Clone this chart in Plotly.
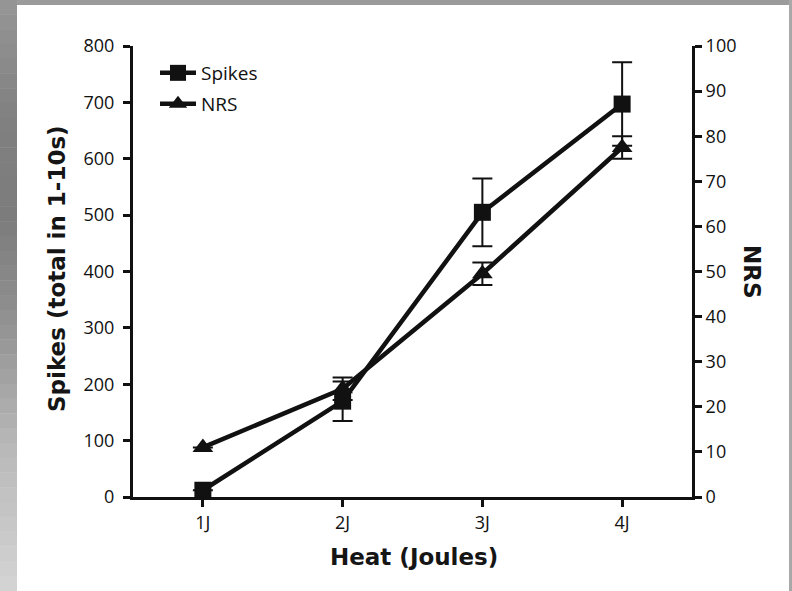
import plotly.graph_objects as go

# ---- data ----
heat_labels = ["1J", "2J", "3J", "4J"]
heat_x = [1, 2, 3, 4]
spikes = [12, 170, 505, 697]
spikes_err = [0, 35, 60, 74]
nrs = [11, 24, 49.5, 77.5]
nrs_err = [0, 2.5, 2.5, 2.5]
left_ticks = [0, 100, 200, 300, 400, 500, 600, 700, 800]
right_ticks = [0, 10, 20, 30, 40, 50, 60, 70, 80, 90, 100]

W, H = 792, 591
L, R, T, B = 133, 692, 46, 497  # plot area in pixels


def px(xp):
    return (xp - L) / (R - L)


def py(yp):
    return (B - yp) / (B - T)


tick_font = dict(family="Open Sans, Noto Sans, sans-serif", size=18, color="#111")
title_font = dict(family="DejaVu Sans, Verdana, sans-serif", size=23, color="#151515", weight=700)
legend_font = dict(family="Open Sans, Noto Sans, sans-serif", size=19, color="#111")

fig = go.Figure()
fig.add_trace(go.Scatter(
    x=heat_x, y=spikes, name="Spikes", mode="lines+markers", legend="legend",
    line=dict(color="#111", width=4.5),
    marker=dict(symbol="square", size=17, color="#111"),
    error_y=dict(type="data", array=spikes_err, visible=True, color="#111", thickness=2, width=10),
    cliponaxis=False,
))
fig.add_trace(go.Scatter(
    x=heat_x, y=nrs, name="NRS", mode="lines+markers", yaxis="y2", legend="legend2",
    line=dict(color="#111", width=4.5),
    marker=dict(symbol="triangle-up", size=18, color="#111"),
    error_y=dict(type="data", array=nrs_err, visible=True, color="#111", thickness=2, width=10),
    cliponaxis=False,
))

shapes = []
# gray frame: top band
shapes.append(dict(type="rect", xref="paper", yref="paper", x0=px(0), x1=px(W), y0=py(0), y1=py(5),
                   fillcolor="#9b9b9b", line=dict(width=0), layer="below"))
# right thin band
shapes.append(dict(type="rect", xref="paper", yref="paper", x0=px(789), x1=px(W), y0=py(0), y1=py(H),
                   fillcolor="#a8a8a8", line=dict(width=0), layer="below"))
# left gradient band (decorative)
stops = [(0, 150), (120, 128), (220, 124), (320, 145), (450, 185), (591, 212)]
n = 40
for i in range(n):
    y0 = H * i / n
    y1 = H * (i + 1) / n
    ym = (y0 + y1) / 2
    for (a, ca), (b, cb) in zip(stops[:-1], stops[1:]):
        if a <= ym <= b:
            c = int(round(ca + (cb - ca) * (ym - a) / (b - a)))
            break
    shapes.append(dict(type="rect", xref="paper", yref="paper", x0=px(0), x1=px(17),
                       y0=py(y1), y1=py(y0) + 0.001, fillcolor=f"rgb({c},{c},{c})",
                       line=dict(width=0), layer="below"))

annotations = [
    dict(text="Spikes (total in 1-10s)", xref="paper", yref="paper", x=px(57), y=py(269),
         textangle=-90, showarrow=False, font=title_font, xanchor="center", yanchor="middle"),
    dict(text="Heat (Joules)", xref="paper", yref="paper", x=px(414), y=py(557),
         showarrow=False, font=title_font, xanchor="center", yanchor="middle"),
    dict(text="NRS", xref="paper", yref="paper", x=px(752), y=py(272),
         textangle=90, showarrow=False, font=title_font, xanchor="center", yanchor="middle"),
]

axis_common = dict(showgrid=False, zeroline=False, showline=True, linecolor="#111", linewidth=3,
                   ticks="outside", ticklen=7, tickwidth=3, tickcolor="#111", tickfont=tick_font)

fig.update_layout(
    width=W, height=H,
    margin=dict(l=L, r=W - R, t=T, b=H - B, autoexpand=False),
    paper_bgcolor="white", plot_bgcolor="white",
    showlegend=True,
    legend=dict(x=px(155), y=py(73), xanchor="left", yanchor="middle", bgcolor="rgba(0,0,0,0)",
                font=legend_font, itemwidth=36),
    legend2=dict(x=px(155), y=py(104), xanchor="left", yanchor="middle", bgcolor="rgba(0,0,0,0)",
                 font=legend_font, itemwidth=36),
    xaxis=dict(range=[0.5, 4.5], tickvals=heat_x, ticktext=heat_labels, **axis_common),
    yaxis=dict(range=[0, 800], tickvals=left_ticks, ticklabelstandoff=5, **axis_common),
    yaxis2=dict(range=[0, 100], tickvals=right_ticks, overlaying="y", side="right", **axis_common),
    shapes=shapes,
    annotations=annotations,
)

fig.write_html("out.html", config={"displayModeBar": False},
               post_script="document.body.style.margin='0px';document.body.style.overflow='hidden';")
